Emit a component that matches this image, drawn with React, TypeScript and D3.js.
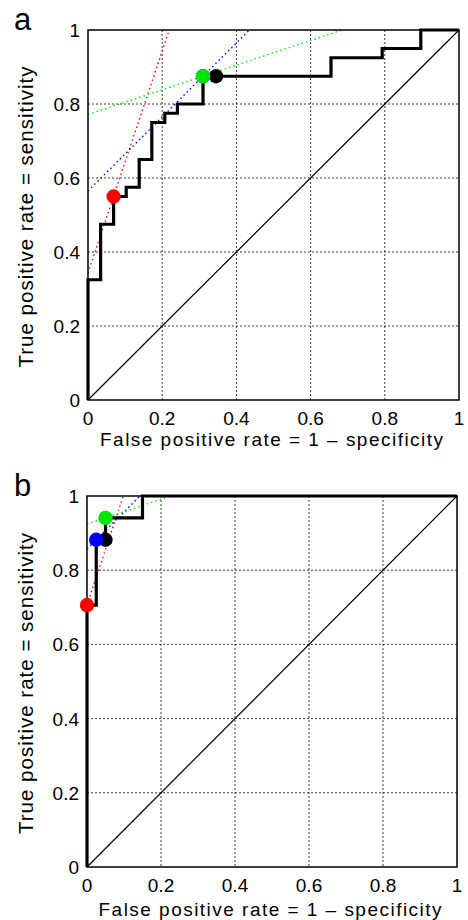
import * as d3 from "d3";
import React from "react";

// ROC curve vertices (fpr, tpr)
const rocAFpr = [0, 0, 0.034, 0.069, 0.103, 0.138, 0.172, 0.207, 0.241, 0.31, 0.655, 0.793, 0.897, 1];
const rocATpr = [0, 0.325, 0.475, 0.55, 0.575, 0.65, 0.75, 0.775, 0.8, 0.875, 0.925, 0.95, 1, 1];
const rocBFpr = [0, 0, 0.025, 0.05, 0.15, 1];
const rocBTpr = [0, 0.706, 0.882, 0.941, 1, 1];

// operating points: black, red, blue, green (drawing order)
const pointColors = ["#000000", "#ff0000", "#0000ff", "#00e600"];
const pointsAFpr = [0.345, 0.069, 0.31, 0.31];
const pointsATpr = [0.875, 0.55, 0.875, 0.875];
const pointsBFpr = [0.05, 0, 0.025, 0.05];
const pointsBTpr = [0.882, 0.706, 0.882, 0.941];
// slope of the iso-cost line through each point (null = none)
const lineSlopes = [null, 3, 1, 1 / 3];

const ticks = [0, 0.2, 0.4, 0.6, 0.8, 1];
const tickLabels = ["0", "0.2", "0.4", "0.6", "0.8", "1"];

const font = "'Liberation Sans', Arial, Helvetica, sans-serif";

type PanelProps = {
  letter: string;
  left: number;
  right: number;
  top: number;
  bottom: number;
  fpr: number[];
  tpr: number[];
  pFpr: number[];
  pTpr: number[];
  xLabelGap: number;
};

function clipLine(x0: number, y0: number, s: number) {
  // y = y0 + s (x - x0), clipped to the unit square
  const xAt = (y: number) => x0 + (y - y0) / s;
  const xa = Math.max(0, xAt(0));
  const xb = Math.min(1, xAt(1));
  const yOf = (x: number) => y0 + s * (x - x0);
  return [
    [xa, yOf(xa)],
    [xb, yOf(xb)],
  ];
}

function Panel({ letter, left, right, top, bottom, fpr, tpr, pFpr, pTpr, xLabelGap }: PanelProps) {
  const x = d3.scaleLinear().domain([0, 1]).range([left, right]);
  const y = d3.scaleLinear().domain([0, 1]).range([bottom, top]);
  const pts = fpr.map((f, i) => [f, tpr[i]] as [number, number]);
  const roc = d3
    .line<[number, number]>()
    .x((d) => x(d[0]))
    .y((d) => y(d[1]))
    .curve(d3.curveStepAfter)(pts);
  const clipId = "clip" + letter;
  const cx = (left + right) / 2;
  const cy = (top + bottom) / 2;

  return (
    <g>
      <defs>
        <clipPath id={clipId}>
          <rect x={left} y={top} width={right - left} height={bottom - top} />
        </clipPath>
      </defs>
      <rect x={left} y={top} width={right - left} height={bottom - top} fill="#fff" />
      {/* grid */}
      {ticks.slice(1, -1).map((t) => (
        <g key={"g" + t}>
          <line x1={x(t)} x2={x(t)} y1={top} y2={bottom} stroke="#222" strokeWidth={0.9} strokeDasharray="2,2" />
          <line x1={left} x2={right} y1={y(t)} y2={y(t)} stroke="#222" strokeWidth={0.9} strokeDasharray="2,2" />
        </g>
      ))}
      {/* chance diagonal */}
      <line x1={x(0)} y1={y(0)} x2={x(1)} y2={y(1)} stroke="#000" strokeWidth={1.2} />
      {/* iso-cost lines */}
      <g clipPath={`url(#${clipId})`}>
        {lineSlopes.map((s, i) => {
          if (s === null) return null;
          const [a, b] = clipLine(pFpr[i], pTpr[i], s);
          return (
            <line
              key={"l" + i}
              x1={x(a[0])}
              y1={y(a[1])}
              x2={x(b[0])}
              y2={y(b[1])}
              stroke={pointColors[i]}
              strokeWidth={1.4}
              strokeDasharray="1.5,3"
            />
          );
        })}
      </g>
      <path d={roc || ""} fill="none" stroke="#000" strokeWidth={3.2} />
      {/* axes box */}
      <rect x={left} y={top} width={right - left} height={bottom - top} fill="none" stroke="#000" strokeWidth={1.5} />
      {pFpr.map((f, i) => (
        <circle key={"p" + i} cx={x(f)} cy={y(pTpr[i])} r={7.2} fill={pointColors[i]} />
      ))}
      {/* tick labels */}
      {ticks.map((t, i) => (
        <text key={"xt" + t} x={x(t)} y={bottom + 25} textAnchor="middle" fontSize={19} fontFamily={font}>
          {tickLabels[i]}
        </text>
      ))}
      {ticks.map((t, i) => (
        <text
          key={"yt" + t}
          x={left - 8}
          y={y(t) + 7}
          textAnchor="end"
          fontSize={19}
          fontFamily={font}
        >
          {tickLabels[i]}
        </text>
      ))}
      <text
        x={cx - 2}
        y={bottom + xLabelGap}
        textAnchor="middle"
        fontSize={19}
        fontFamily={font}
        textLength={343}
        lengthAdjust="spacing"
      >
        False positive rate = 1 – specificity
      </text>
      <text
        transform={`translate(33,${cy + 2}) rotate(-90)`}
        textAnchor="middle"
        fontSize={20.5}
        fontFamily={font}
        textLength={301}
        lengthAdjust="spacing"
      >
        True positive rate = sensitivity
      </text>
      <text x={14} y={top} fontSize={31} fontFamily={font}>
        {letter}
      </text>
    </g>
  );
}

export default function App() {
  return (
    <svg
      width={468}
      height={920}
      style={{ position: "absolute", left: 0, top: 0, background: "#fff" }}
    >
      <rect width={468} height={920} fill="#fff" />
      <Panel
        letter="a"
        left={88}
        right={459}
        top={30}
        bottom={400}
        fpr={rocAFpr}
        tpr={rocATpr}
        pFpr={pointsAFpr}
        pTpr={pointsATpr}
        xLabelGap={46}
      />
      <Panel
        letter="b"
        left={87}
        right={457}
        top={496}
        bottom={867}
        fpr={rocBFpr}
        tpr={rocBTpr}
        pFpr={pointsBFpr}
        pTpr={pointsBTpr}
        xLabelGap={49}
      />
    </svg>
  );
}
